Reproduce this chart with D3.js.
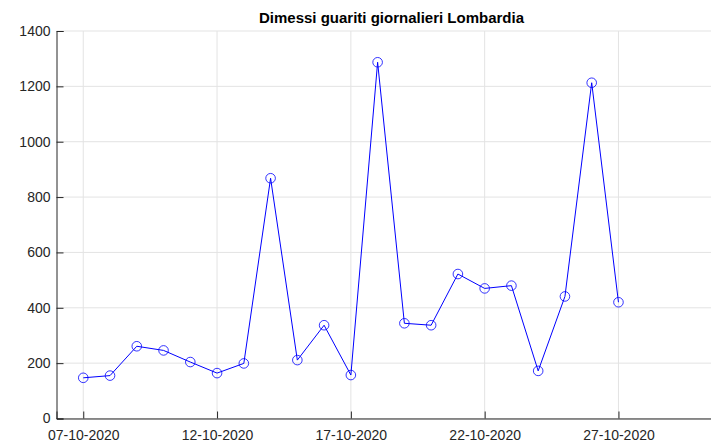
<!DOCTYPE html>
<html>
<head>
<meta charset="utf-8">
<script src="https://cdn.jsdelivr.net/npm/d3@7"></script>
<style>
  body { margin: 0; background: #fff; }
  svg { display: block; font-family: "Liberation Sans", Arial, sans-serif; }
</style>
</head>
<body>
<div id="chart"></div>
<script>
var dates = ["07-10-2020","08-10-2020","09-10-2020","10-10-2020","11-10-2020","12-10-2020","13-10-2020",
             "14-10-2020","15-10-2020","16-10-2020","17-10-2020","18-10-2020","19-10-2020","20-10-2020",
             "21-10-2020","22-10-2020","23-10-2020","24-10-2020","25-10-2020","26-10-2020","27-10-2020"];
var dimessi = [147, 155, 261, 246, 204, 164, 199, 868, 211, 337, 157, 1287, 344, 337,
               522, 470, 480, 172, 441, 1213, 420];
var xTickLabels = ["07-10-2020","12-10-2020","17-10-2020","22-10-2020","27-10-2020"];
var yTicks = [0, 200, 400, 600, 800, 1000, 1200, 1400];
var titolo = "Dimessi guariti giornalieri Lombardia";

var width = 711, height = 442;
var parseTime = d3.timeParse("%d-%m-%Y");

var data = dates.map(function (d, i) {
  return {date: parseTime(d), valore: dimessi[i]};
});

var svg = d3.select("#chart").append("svg")
  .attr("width", width)
  .attr("height", height);

var mLeft = 56.5, mTop = 31, mBottom = 418.5, dayPx = 26.76;

var x = d3.scaleTime()
  .domain([parseTime("06-10-2020"), parseTime("31-10-2020")])
  .range([mLeft, mLeft + 25 * dayPx]);
var y = d3.scaleLinear().domain([0, 1400]).range([mBottom, mTop]);

var xTicks = xTickLabels.map(parseTime);

// griglia
svg.append("g").selectAll("line")
  .data(xTicks).enter().append("line")
  .attr("x1", function (d) { return x(d); })
  .attr("x2", function (d) { return x(d); })
  .attr("y1", mTop).attr("y2", mBottom)
  .attr("stroke", "#e3e3e3").attr("stroke-width", 1);

svg.append("g").selectAll("line")
  .data(yTicks).enter().append("line")
  .attr("x1", mLeft).attr("x2", width)
  .attr("y1", function (d) { return y(d); })
  .attr("y2", function (d) { return y(d); })
  .attr("stroke", "#e3e3e3").attr("stroke-width", 1);

// assi
var xAxis = svg.append("g")
  .attr("transform", "translate(0," + mBottom + ")")
  .call(d3.axisBottom(x).tickValues(xTicks).tickFormat(d3.timeFormat("%d-%m-%Y")).tickSizeOuter(0).tickSize(-7));
xAxis.select(".domain").attr("stroke", "#262626");
xAxis.selectAll(".tick line").attr("stroke", "#262626");
xAxis.selectAll("text").attr("dy", null).attr("y", 21)
  .style("font-size", "14px").attr("fill", "#262626");

var yAxis = svg.append("g")
  .attr("transform", "translate(" + mLeft + ",0)")
  .call(d3.axisLeft(y).tickValues(yTicks).tickFormat(d3.format("d")).tickSizeOuter(0).tickSize(-7));
yAxis.select(".domain").attr("stroke", "#262626");
yAxis.selectAll(".tick line").attr("stroke", "#262626");
yAxis.selectAll("text").attr("x", -6)
  .style("font-size", "14px").attr("fill", "#262626");

// serie
var line = d3.line()
  .x(function (d) { return x(d.date); })
  .y(function (d) { return y(d.valore); });

svg.append("path")
  .datum(data)
  .attr("fill", "none")
  .attr("stroke", "#0000ff")
  .attr("stroke-width", 1)
  .attr("d", line);

svg.append("g").selectAll("circle")
  .data(data).enter().append("circle")
  .attr("cx", function (d) { return x(d.date); })
  .attr("cy", function (d) { return y(d.valore); })
  .attr("r", 4.8)
  .attr("fill", "none")
  .attr("stroke", "#0000ff")
  .attr("stroke-width", 0.8);

svg.append("text")
  .attr("x", 391.5)
  .attr("y", 23)
  .attr("text-anchor", "middle")
  .style("font-size", "15px")
  .style("font-weight", "bold")
  .attr("fill", "#000")
  .text(titolo);
</script>
</body>
</html>
